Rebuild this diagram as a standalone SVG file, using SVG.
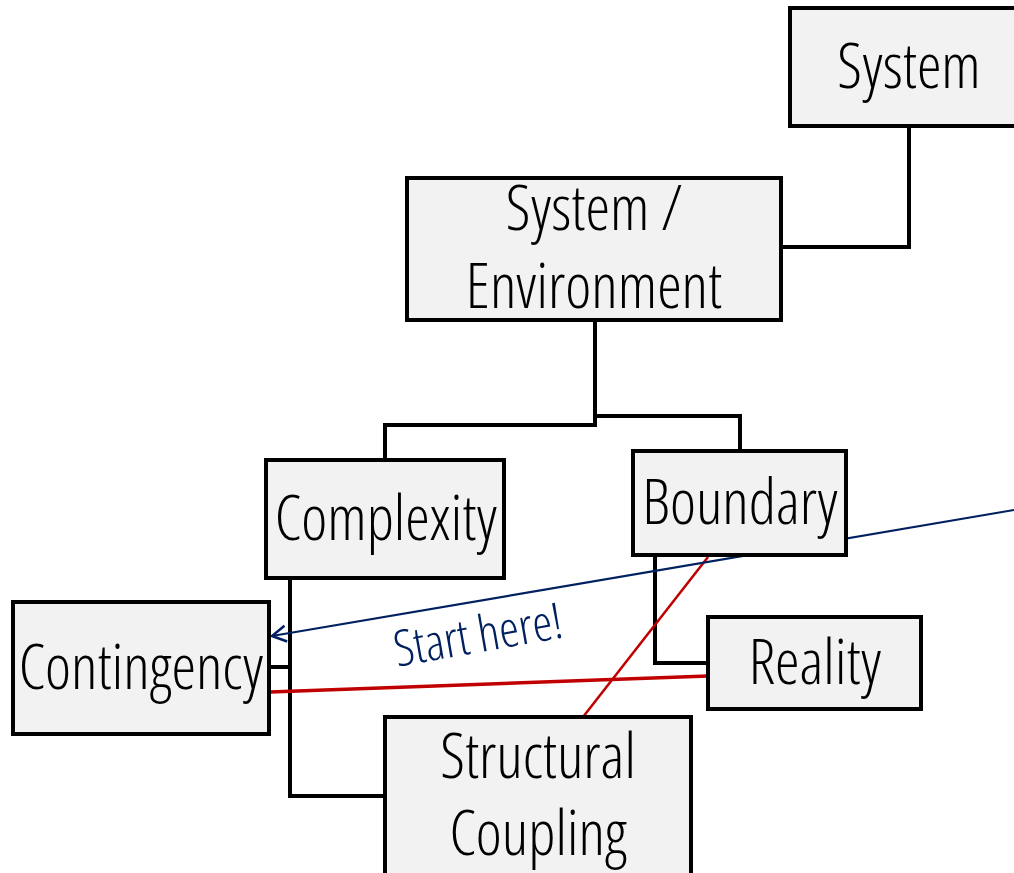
<svg xmlns="http://www.w3.org/2000/svg" width="1014" height="873" viewBox="0 0 1014 873">
<style>
.box{fill:#f2f2f2;stroke:#000;stroke-width:4}
.lbl{font-family:"Open Sans","Liberation Sans",sans-serif;font-weight:300;font-stretch:75%;font-size:62px;fill:#000;text-anchor:middle}
.tree{fill:none;stroke:#000;stroke-width:4}
.red{fill:none;stroke:#c00000}
</style>
<defs>
<marker id="open" viewBox="0 0 20 20" refX="18" refY="10" markerWidth="20" markerHeight="20" markerUnits="userSpaceOnUse" orient="auto">
<path d="M4,2 L18,10 L4,18" fill="none" stroke="#002060" stroke-width="2.5"/>
</marker>
</defs>
<rect width="1014" height="873" fill="#fff"/>
<g id="connectors">
<path class="tree" d="M909,126 V247 H781"/>
<path class="tree" d="M595,320 V416 H740 V451"/>
<path class="tree" d="M595,416 V425 H385 V460"/>
<path class="tree" d="M290,578 V796 H385"/>
<path class="tree" d="M269,667 H290"/>
<path class="tree" d="M655,555 V663 H708"/>
<path class="red" stroke-width="3.5" d="M270,692 L708,676"/>
<path class="red" stroke-width="2.5" d="M708,557 L583,717"/>
<path fill="none" stroke="#002060" stroke-width="2.2" d="M1014,510 L272,636" marker-end="url(#open)"/>
</g>
<g id="system">
<rect class="box" x="790" y="8" width="230" height="118"/>
<text class="lbl" x="909" y="88">System</text>
</g>
<g id="system-environment">
<rect class="box" x="407" y="178" width="374" height="142"/>
<text class="lbl" x="594" y="230">System /</text>
<text class="lbl" x="594" y="308">Environment</text>
</g>
<g id="complexity">
<rect class="box" x="266" y="460" width="238" height="118"/>
<text class="lbl" x="386" y="540">Complexity</text>
</g>
<g id="boundary">
<rect class="box" x="633" y="451" width="213" height="104"/>
<text class="lbl" x="740" y="524">Boundary</text>
</g>
<g id="contingency">
<rect class="box" x="13" y="602" width="256" height="132"/>
<text class="lbl" x="141" y="689">Contingency</text>
</g>
<g id="reality">
<rect class="box" x="708" y="617" width="213" height="92"/>
<text class="lbl" x="815" y="684">Reality</text>
</g>
<g id="structural-coupling">
<rect class="box" x="385" y="717" width="306" height="170"/>
<text class="lbl" x="538" y="778">Structural</text>
<text class="lbl" x="538" y="855">Coupling</text>
</g>
<g id="start-label">
<text class="lbl" style="fill:#002060;font-size:50px" transform="translate(481,652) rotate(-10)" x="0" y="0">Start here!</text>
</g>
</svg>
